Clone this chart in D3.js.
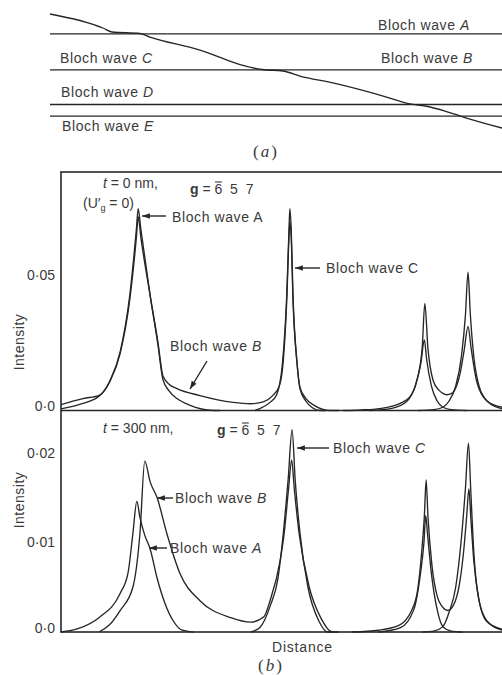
<!DOCTYPE html>
<html>
<head>
<meta charset="utf-8">
<script src="https://cdn.jsdelivr.net/npm/d3@7"></script>
<style>
  body { margin: 0; background: #fff; }
  svg text { font-family: "Liberation Sans", Arial, sans-serif; fill: #3a3a3a; font-size: 14px; }
</style>
</head>
<body>
<div id="chart"></div>
<script>
// ---- (a) dispersion sketch: flat branches and the sloping branch ----
const bandLevels = [
  { name: "A", e: 17.5 },
  { name: "B", e: 49 },
  { name: "D", e: 79.4 },
  { name: "E", e: 89.5 }
];
const slopingBranch = [[0,0],[11.7,12.3],[13.7,15.8],[19.9,17.1],[22.1,20.2],[33.2,31.6],[43.1,45.6],
  [46.9,48.7],[51.5,50],[55.3,54.4],[62.6,60.5],[75.2,73.7],[79.6,78.9],[83,80.7],[87.4,85.1],[91.8,90.8],[100,100]];

// ---- (b) intensity profiles, [distance, intensity] ----
// t = 0 nm
const waveA0 = [[0,0.0006],[5,0.0026],[8.8,0.0055],[11.1,0.011],[13.4,0.0215],[15.6,0.0426],[17.1,0.067],[17.5,0.0745],
  [18.1,0.067],[20.2,0.0426],[22,0.024],[23.1,0.0115],[24.5,0.0072],[26.3,0.0044],[29.3,0.0019],[33.8,0.0001],[36,0]];
const waveB0 = [[0,0.0022],[5,0.0044],[8.8,0.0057],[11.1,0.0108],[13.4,0.021],[15.6,0.041],[17.1,0.064],[17.5,0.0715],
  [18.1,0.064],[20.2,0.0426],[22,0.025],[23.1,0.0128],[24.5,0.0097],[26.3,0.0081],[31.5,0.0055],[39,0.003],[43,0.0025],
  [46,0.0033],[48,0.0055],[49.5,0.009],[50.3,0.0165],[51.2,0.041],[51.7,0.064],[51.9,0.0695],[52.2,0.064],[52.6,0.041],
  [53.5,0.0178],[54.2,0.0085],[55.5,0.0045],[57.5,0.0018],[61,0],[63,0]];
const waveC0 = [[44,0],[45.1,0.0007],[47.4,0.003],[48.9,0.0058],[50.2,0.0172],[51.2,0.043],[51.7,0.067],[51.9,0.0745],
  [52.2,0.067],[52.6,0.043],[53.5,0.018],[54.2,0.008],[55.5,0.0035],[57,0.001],[58.7,0],[60,0]];
const waveD0 = [[64,0],[68,0.0002],[72.3,0.0007],[76.9,0.0026],[79.1,0.005],[80.7,0.011],[81.9,0.023],[82.5,0.0395],
  [83.2,0.023],[84.4,0.011],[85.7,0.0075],[86.6,0.0063],[87.5,0.0058],[88.5,0.0062],[89.3,0.0076],[90.5,0.0137],
  [91.4,0.022],[92.3,0.031],[93,0.023],[94.3,0.0105],[96.6,0.0035],[100,0.0012]];
const waveE0 = [[70,0],[75,0.0008],[78.5,0.0035],[80.3,0.009],[81.6,0.0175],[82.4,0.026],[82.9,0.019],[84,0.009],
  [85.3,0.0035],[86.6,0.0012],[88.5,0.0003],[92,0]];
const waveF0 = [[81,0],[84.5,0.0003],[86.6,0.0012],[88,0.0035],[89.5,0.009],[90.8,0.02],[91.7,0.035],[92.3,0.051],
  [92.8,0.036],[93.6,0.02],[94.8,0.009],[96.8,0.0032],[100,0.0006]];
// t = 300 nm
const waveA300 = [[0,0],[4,0.0004],[8.6,0.0016],[13.4,0.0043],[15.2,0.0066],[16.3,0.011],[17.2,0.0146],[17.9,0.0128],
  [19,0.0108],[20.2,0.0093],[21.8,0.006],[23.5,0.0033],[25.5,0.0012],[27.5,0.0002],[30,0]];
const waveB300 = [[8.6,0],[11,0.0008],[13.4,0.0024],[16.3,0.005],[17.9,0.011],[19,0.0191],[20.2,0.0168],[21.8,0.015],
  [24,0.011],[27,0.0065],[31.5,0.0035],[38.5,0.0016],[43,0.0011],[46,0.0017],[47.4,0.0035],[49.7,0.008],[50.6,0.011],
  [51.6,0.016],[52.3,0.0192],[52.9,0.016],[54,0.011],[56.3,0.005],[59,0.0015],[61.5,0],[63,0]];
const waveC300 = [[43,0],[45.1,0.0005],[47.5,0.003],[49.2,0.006],[50.4,0.011],[51.5,0.017],[52.4,0.0226],[53.1,0.017],
  [54.2,0.011],[56,0.005],[58.5,0.0012],[60.5,0],[62,0]];
const waveD300 = [[66,0],[72,0.0002],[76.5,0.0007],[79.5,0.0024],[80.9,0.0048],[81.8,0.009],[82.4,0.013],[82.8,0.017],
  [83.2,0.013],[84.1,0.0075],[85.3,0.004],[86.5,0.0028],[87.7,0.0024],[89,0.003],[90.3,0.0052],[91.3,0.009],[92,0.013],
  [92.5,0.016],[92.9,0.013],[93.6,0.008],[94.8,0.0035],[96.5,0.0012],[100,0.0003]];
const waveE300 = [[72,0],[77,0.0005],[80,0.0025],[81.5,0.0065],[82.3,0.01],[82.7,0.013],[83.1,0.011],[84,0.0065],
  [85.3,0.0025],[86.6,0.0006],[88.5,0.0001],[91,0]];
const waveF300 = [[82,0],[84.5,0.0001],[86.6,0.0006],[88,0.0022],[89.5,0.005],[90.8,0.0105],[91.7,0.016],[92.4,0.0211],
  [92.9,0.016],[93.6,0.009],[94.6,0.004],[96.5,0.0013],[100,0.0002]];

const ticks0 = [0, 0.05];
const ticks300 = [0, 0.01, 0.02];

const ink = "#262626";
const W = 502, H = 675;
const svg = d3.select("#chart").append("svg").attr("width", W).attr("height", H);

const defs = svg.append("defs");
defs.append("marker")
  .attr("id", "tip")
  .attr("viewBox", "0 -4 9 8")
  .attr("refX", 9).attr("refY", 0)
  .attr("markerWidth", 9).attr("markerHeight", 7)
  .attr("markerUnits", "userSpaceOnUse")
  .attr("orient", "auto")
  .append("path").attr("d", "M0,-3.2L9,0L0,3.2Z").attr("fill", ink);

// helper for "Bloch wave X" labels with optional italic letter
function label(g, x, y, letter, italic) {
  const t = g.append("text").attr("x", x).attr("y", y).style("letter-spacing", "0.6px");
  t.append("tspan").text("Bloch wave ");
  t.append("tspan").text(letter).style("font-style", italic ? "italic" : "normal");
  return t;
}
function arrow(g, x1, y1, x2, y2) {
  g.append("line").attr("x1", x1).attr("y1", y1).attr("x2", x2).attr("y2", y2)
    .attr("stroke", ink).attr("stroke-width", 1.4).attr("marker-end", "url(#tip)");
}
// "g = 6̄ 5 7" with a drawn bar over the 6
function gVector(g, x, y) {
  const t = g.append("text").attr("x", x).attr("y", y).style("white-space", "pre");
  t.append("tspan").attr("font-weight", "bold").text("g");
  t.append("tspan").text(" = 6  5  7");
  const box = t.node().getExtentOfChar(4);
  g.append("line").attr("x1", box.x + 0.5).attr("x2", box.x + box.width - 0.5)
    .attr("y1", box.y + 1).attr("y2", box.y + 1)
    .attr("stroke", "#3a3a3a").attr("stroke-width", 1.1);
}

// ================= (a) =================
const xa = d3.scaleLinear([0, 100], [50, 502]);
const ya = d3.scaleLinear([0, 100], [14, 128]);
const ga = svg.append("g");

ga.selectAll("line.level")
  .data(bandLevels)
  .join("line")
  .attr("class", "level")
  .attr("x1", xa(0)).attr("x2", xa(100))
  .attr("y1", d => ya(d.e)).attr("y2", d => ya(d.e))
  .attr("stroke", ink).attr("stroke-width", 1.3);

ga.append("path")
  .datum(slopingBranch)
  .attr("d", d3.line().x(d => xa(d[0])).y(d => ya(d[1])).curve(d3.curveMonotoneX))
  .attr("fill", "none").attr("stroke", ink).attr("stroke-width", 1.3);

label(ga, 378, 30, "A", true);
label(ga, 60, 63, "C", true);
label(ga, 381, 63, "B", true);
label(ga, 61, 97, "D", true);
label(ga, 62, 131, "E", true);

ga.append("text").attr("x", 266).attr("y", 157).attr("text-anchor", "middle")
  .style("font-family", "'Liberation Serif', 'DejaVu Serif', serif").style("font-size", "17px")
  .style("letter-spacing", "2px")
  .html('(<tspan font-style="italic">a</tspan>)');

// ================= (b) =================
const x = d3.scaleLinear([0, 100], [61, 502]);
const y0 = d3.scaleLinear([0, 0.05], [410.5, 275]);
const y300 = d3.scaleLinear([0, 0.01], [632, 542.5]);
const fmt = d => d === 0 ? "0\u00b70" : String(d).replace(".", "\u00b7");

const gb = svg.append("g");

// frame: outer box and divider
gb.append("rect").attr("x", 61).attr("y", 172).attr("width", 460).attr("height", 460)
  .attr("fill", "none").attr("stroke", ink).attr("stroke-width", 1.6);
gb.append("line").attr("x1", 61).attr("x2", 521).attr("y1", y0(0)).attr("y2", y0(0))
  .attr("stroke", ink).attr("stroke-width", 1.6);

function yAxis(scale, vals) {
  const a = gb.append("g").attr("transform", "translate(61,0)")
    .call(d3.axisLeft(scale).tickValues(vals).tickSize(0).tickPadding(6).tickFormat(fmt));
  a.select(".domain").remove();
  a.selectAll("text").style("font-family", "'Liberation Sans', Arial, sans-serif")
    .style("font-size", "14px").attr("fill", "#3a3a3a")
    .filter(d => d === 0).attr("dy", "0em");
}
yAxis(y0, ticks0);
yAxis(y300, ticks300);

function curves(scale, list) {
  const line = d3.line().x(d => x(d[0])).y(d => scale(d[1])).curve(d3.curveMonotoneX);
  gb.append("g").selectAll("path").data(list).join("path")
    .attr("d", line).attr("fill", "none").attr("stroke", ink).attr("stroke-width", 1.35)
    .attr("stroke-linejoin", "round");
}
curves(y0, [waveA0, waveB0, waveC0, waveD0, waveE0, waveF0]);
curves(y300, [waveA300, waveB300, waveC300, waveD300, waveE300, waveF300]);

// axis titles
[342, 500].forEach(cy => {
  gb.append("text").attr("transform", `translate(24,${cy}) rotate(-90)`).attr("text-anchor", "middle")
    .style("letter-spacing", "0.5px").text("Intensity");
});
gb.append("text").attr("x", 272).attr("y", 652).style("letter-spacing", "0.8px").text("Distance");
gb.append("text").attr("x", 271).attr("y", 671).attr("text-anchor", "middle")
  .style("font-family", "'Liberation Serif', 'DejaVu Serif', serif").style("font-size", "17px")
  .style("letter-spacing", "2px")
  .html('(<tspan font-style="italic">b</tspan>)');

// panel 1 annotations
gb.append("text").attr("x", 103).attr("y", 188)
  .html('<tspan font-style="italic">t</tspan> = 0 nm,');
gb.append("text").attr("x", 83).attr("y", 208)
  .html('(U\u2032<tspan dy="3" font-size="9">g</tspan><tspan dy="-3"> = 0)</tspan>');
gVector(gb, 190, 194);
arrow(gb, 166, 216, 142, 216);
label(gb, 172, 222, "A", false);
arrow(gb, 320, 268, 295, 268);
label(gb, 326, 273, "C", false);
arrow(gb, 207, 361, 190, 389);
label(gb, 170, 351, "B", true);

// panel 2 annotations
gb.append("text").attr("x", 103).attr("y", 433)
  .html('<tspan font-style="italic">t</tspan> = 300 nm,');
gVector(gb, 217, 435);
arrow(gb, 329, 448, 297, 448);
label(gb, 333, 453, "C", true);
arrow(gb, 173, 498, 157, 498);
label(gb, 175, 503, "B", true);
arrow(gb, 167, 548, 149, 548);
label(gb, 170, 553, "A", true);
</script>
</body>
</html>
